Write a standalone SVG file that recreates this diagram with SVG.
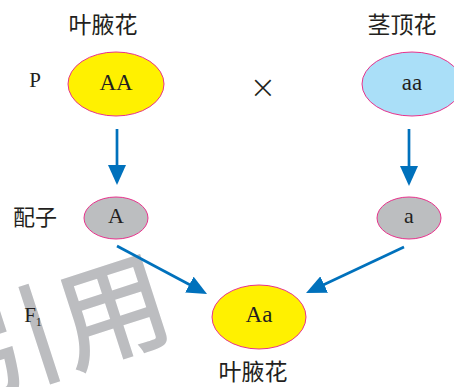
<svg xmlns="http://www.w3.org/2000/svg" width="454" height="387" viewBox="0 0 454 387">
<style>
.cn{font-family:"Noto Sans CJK SC","Noto Sans",sans-serif;font-size:23px;fill:#231f20;text-anchor:middle}
.lt{font-family:"Liberation Serif","DejaVu Serif",serif;fill:#231f20;text-anchor:middle}
.node{stroke:#e8338c;stroke-width:1}
.yel{fill:#fff100}
.blu{fill:#aadff8}
.gry{fill:#bcbec0}
.arr{stroke:#0071bc;stroke-width:2.7;fill:none;marker-end:url(#ah)}
.wm{font-family:"Noto Sans CJK SC",serif;font-size:112px;fill:#bcbdc0;font-weight:500}
</style>
<defs>
<marker id="ah" markerUnits="userSpaceOnUse" markerWidth="20" markerHeight="18" refX="10" refY="9" orient="auto" viewBox="0 0 20 18">
<path d="M0,0 L20,9 L0,18 z" fill="#0071bc"/>
</marker>
</defs>
<rect width="454" height="387" fill="#ffffff"/>
<g id="watermark">
<text class="wm" x="168" y="352" text-anchor="end" transform="rotate(-18 113 310)">引用</text>
</g>
<g id="labels">
<text class="cn" x="103" y="33">叶腋花</text>
<text class="cn" x="402" y="33">茎顶花</text>
<text class="lt" x="35" y="87" font-size="21">P</text>
<text class="lt" x="263" y="98" font-size="32" style="font-family:'DejaVu Sans ExtraLight','DejaVu Sans',sans-serif;font-weight:200">×</text>
<text class="cn" x="35" y="225" style="font-size:22px">配子</text>
<text class="lt" x="33" y="322" font-size="21">F<tspan font-size="12" dy="4">1</tspan></text>
<text class="cn" x="253" y="380">叶腋花</text>
</g>
<g id="node-AA">
<ellipse class="node yel" cx="116" cy="84" rx="48" ry="32"/>
<text class="lt" x="116" y="90" font-size="23">AA</text>
</g>
<g id="node-aa">
<ellipse class="node blu" cx="412" cy="84" rx="50" ry="32"/>
<text class="lt" x="412" y="90" font-size="23">aa</text>
</g>
<g id="node-A">
<ellipse class="node gry" cx="116" cy="218" rx="32" ry="21"/>
<text class="lt" x="116" y="223" font-size="22">A</text>
</g>
<g id="node-a">
<ellipse class="node gry" cx="409" cy="218" rx="32" ry="21"/>
<text class="lt" x="409" y="223" font-size="22">a</text>
</g>
<g id="node-Aa">
<ellipse class="node yel" cx="259" cy="317" rx="47" ry="32"/>
<text class="lt" x="259" y="322" font-size="23">Aa</text>
</g>
<g id="connectors">
<line class="arr" x1="117" y1="129" x2="117" y2="175"/>
<line class="arr" x1="409" y1="129" x2="409" y2="176"/>
<line class="arr" x1="117" y1="246" x2="198.2" y2="289.3"/>
<line class="arr" x1="404" y1="247" x2="315.1" y2="288.75"/>
</g>
</svg>
